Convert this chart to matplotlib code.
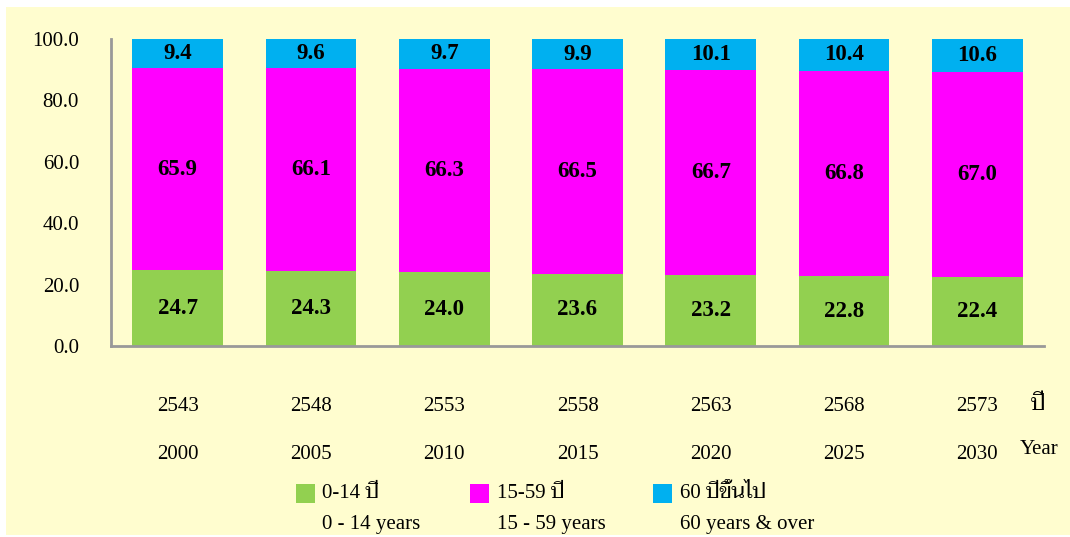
import matplotlib
matplotlib.use("Agg")
import matplotlib.pyplot as plt
from matplotlib.patches import Rectangle

# data
years_be = ["2543", "2548", "2553", "2558", "2563", "2568", "2573"]
years_ad = ["2000", "2005", "2010", "2015", "2020", "2025", "2030"]
age_0_14 = [24.7, 24.3, 24.0, 23.6, 23.2, 22.8, 22.4]
age_15_59 = [65.9, 66.1, 66.3, 66.5, 66.7, 66.8, 67.0]
age_60_up = [9.4, 9.6, 9.7, 9.9, 10.1, 10.4, 10.6]

legend_th = ["0-14 ปี", "15-59 ปี", "60 ปีขึ้นไป"]
legend_en = ["0 - 14 years", "15 - 59 years", "60 years & over"]
colors = ["#92D050", "#FF00FF", "#00B0F0"]

FONT = ["Liberation Serif", "Taviraj", "DejaVu Serif"]
plt.rcParams["font.family"] = FONT

W, H = 1070, 537
fig = plt.figure(figsize=(W / 100, H / 100), dpi=100)
fig.patch.set_facecolor("white")

# pale yellow panel behind everything
fig.patches.append(Rectangle((6 / W, 2 / H), 1 - 6 / W, 1 - 9 / H,
                             transform=fig.transFigure, facecolor="#FFFDCF",
                             edgecolor="none", zorder=-5))

ax = fig.add_axes([111 / W, 1 - 346 / H, (1044 - 111) / W, (346 - 39) / H])
ax.set_facecolor("none")
ax.set_zorder(2)

x = list(range(len(years_be)))
series = [age_0_14, age_15_59, age_60_up]
bottom = [0.0] * len(x)
for vals, col in zip(series, colors):
    ax.bar(x, vals, width=0.68, bottom=bottom, color=col, edgecolor="none", zorder=2)
    for xi, b, v in zip(x, bottom, vals):
        ax.text(xi, b + v / 2, f"{v:.1f}", ha="center", va="center",
                fontsize=16.5, fontweight="bold", zorder=3)
    bottom = [b + v for b, v in zip(bottom, vals)]

ax.set_xlim(-0.5, len(x) - 0.5)
ax.set_ylim(0, 100)
ax.set_yticks([0, 20, 40, 60, 80, 100])
ax.set_yticklabels([f"{t:.1f}" for t in [0, 20, 40, 60, 80, 100]], fontsize=15)
ax.tick_params(axis="y", length=0, pad=23)
ax.set_xticks(x)
ax.set_xticklabels(years_be, fontsize=15)
ax.tick_params(axis="x", length=0, pad=37)

for xi, lab in zip(x, years_ad):
    ax.text(xi, -0.355, lab, transform=ax.get_xaxis_transform(),
            ha="center", va="center", fontsize=15)

for s in ["top", "right"]:
    ax.spines[s].set_visible(False)
for s in ["left", "bottom"]:
    ax.spines[s].set_color("#999999")
    ax.spines[s].set_linewidth(2)

fig.text(1038 / W, 1 - 405 / H, "ปี", ha="center", va="center", fontsize=16)
fig.text(1039 / W, 1 - 449 / H, "Year", ha="center", va="center", fontsize=15)

# legend
sq_x = [296, 470, 653]
txt_x = [322, 497, 680]
for sx, tx, col, th, en in zip(sq_x, txt_x, colors, legend_th, legend_en):
    fig.patches.append(Rectangle((sx / W, 1 - 503 / H), 19 / W, 19 / H,
                                 transform=fig.transFigure, facecolor=col,
                                 edgecolor="none"))
    fig.text(tx / W, 1 - 493 / H, th, ha="left", va="center", fontsize=15)
    fig.text(tx / W, 1 - 524 / H, en, ha="left", va="center", fontsize=15)

fig.savefig("out.png", dpi=100, facecolor=fig.get_facecolor())
